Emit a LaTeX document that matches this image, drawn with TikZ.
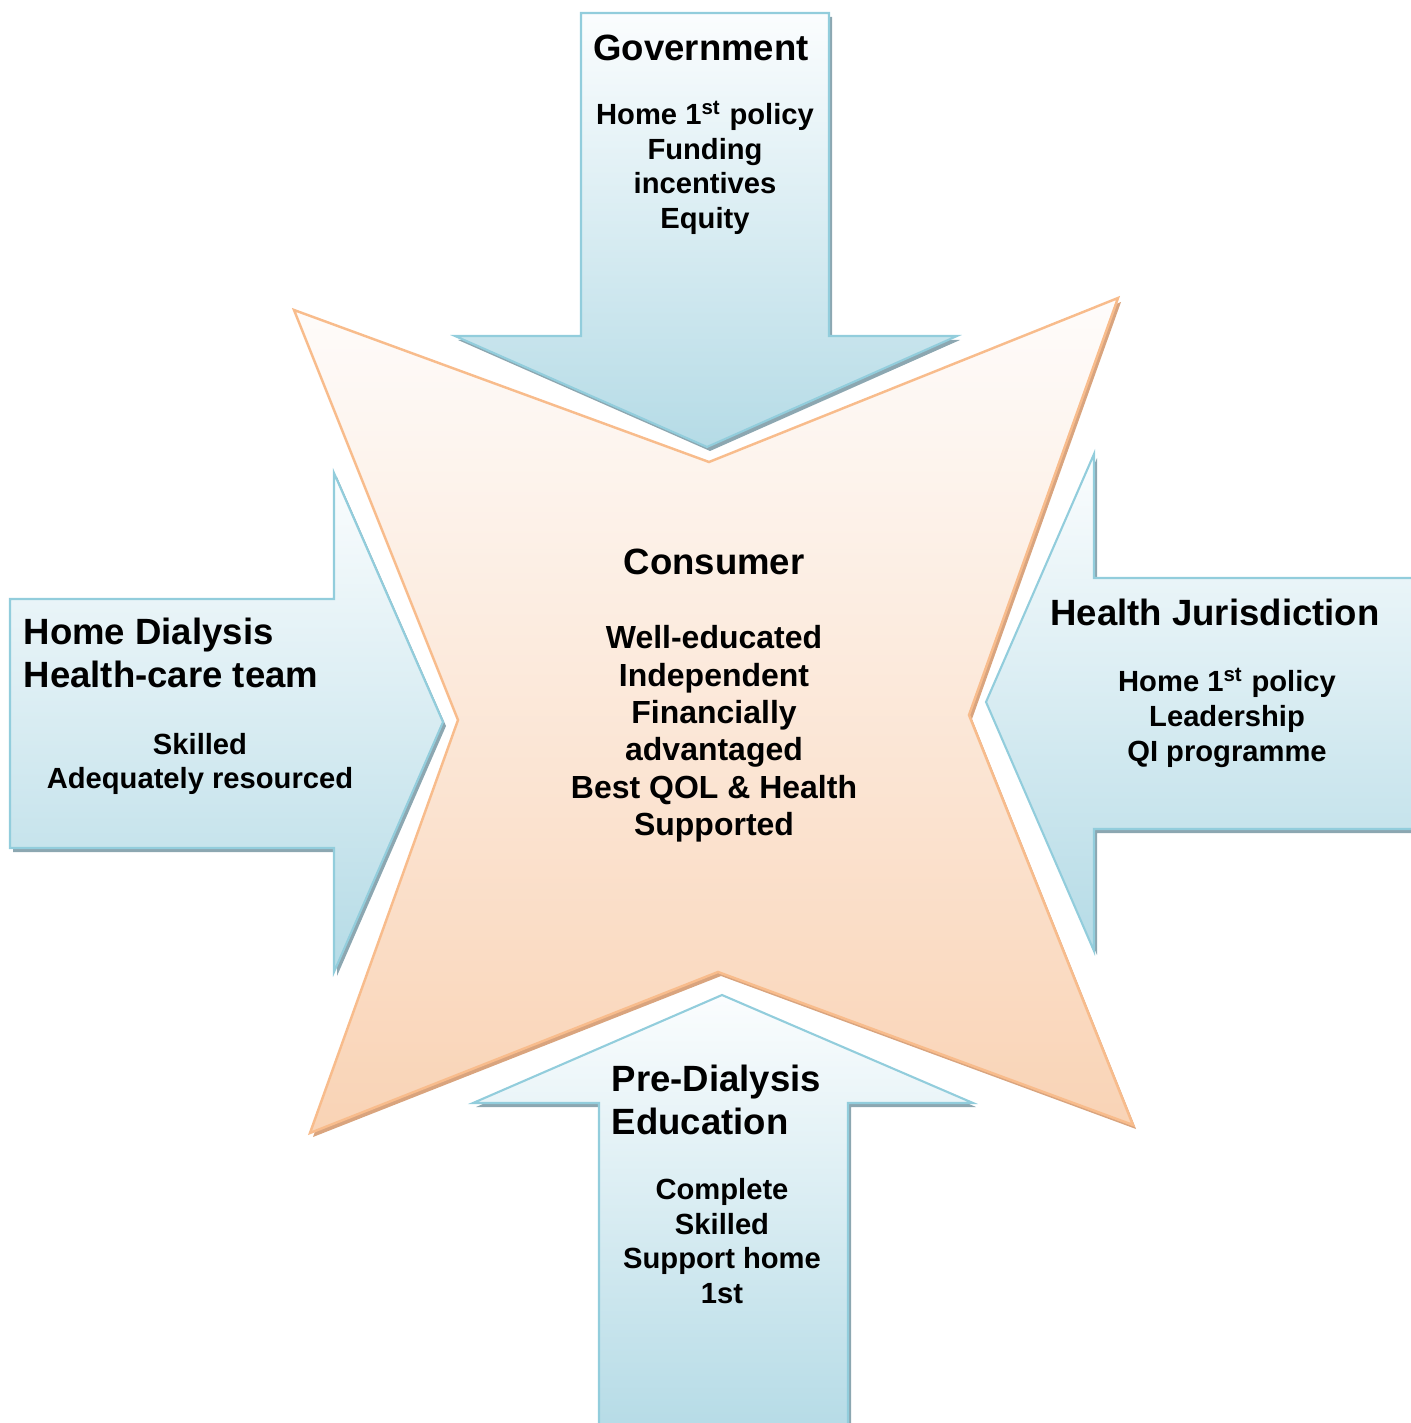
\documentclass[tikz,border=0pt]{standalone}
\usepackage{fontspec}
\setmainfont{Liberation Sans}
\usetikzlibrary{calc}
\definecolor{arrowLine}{HTML}{92CDDC}
\definecolor{arrowTop}{HTML}{FBFDFE}
\definecolor{arrowBlue}{HTML}{B5DBE6}
\definecolor{arrowShade}{HTML}{8CA7B1}
\definecolor{starLine}{HTML}{F8BC8C}
\definecolor{starTop}{HTML}{FEFCFB}
\definecolor{starBottom}{HTML}{F9D3B5}
\definecolor{starShade}{HTML}{D9A47E}
\tikzset{
  blockarrow/.style = {draw=arrowLine, line width=0.6pt, top color=arrowTop, bottom color=arrowBlue,
                       preaction={fill=arrowShade, transform canvas={xshift=0.3mm, yshift=-0.4mm}}},
  starblock/.style  = {draw=starLine, line width=0.7pt, top color=starTop, bottom color=starBottom,
                       preaction={fill=starShade, transform canvas={xshift=0.3mm, yshift=-0.4mm}}},
  head/.style       = {font=\fontsize{10.4}{12.2}\selectfont\bfseries, align=left, inner sep=0pt},
  items/.style      = {font=\fontsize{8.3}{9.9}\selectfont\bfseries, align=center, inner sep=0pt}
}

\begin{document}
\begin{tikzpicture}[x=0.1mm, y=-0.1mm]
  \useasboundingbox (0,0) rectangle (1410,1423);

  % four block arrows pushing in
  \path[blockarrow] (581,13) -- (829,13) -- (829,336) -- (957,336) -- (707,447)
    -- (455,336) -- (581,336) -- cycle;
  \path[blockarrow] (10,599) -- (334,599) -- (334,473) -- (443,722) -- (334,972)
    -- (334,848) -- (10,848) -- cycle;
  \path[blockarrow] (1420,578) -- (1094,578) -- (1094,454) -- (986,702) -- (1094,951)
    -- (1094,829) -- (1420,829) -- cycle;
  \path[blockarrow] (599,1433) -- (599,1103) -- (473,1103) -- (722,995) -- (973,1103)
    -- (848,1103) -- (848,1433) -- cycle;

  % the star in the middle
  \path[starblock] (294,310) -- (709,462) -- (1118,298) -- (969,715) -- (1133,1125)
    -- (718,972) -- (310,1133) -- (458,720) -- cycle;

  % texts
  \node[head] (govTitle) at (701,48) {Government};
  \node[items] (govBody) at (705,168) {Home 1\textsuperscript{st} policy\\ Funding\\ incentives\\ Equity};

  \node[head] (conTitle) at (714,562) {Consumer};
  \node[items, font=\fontsize{9.1}{10.65}\selectfont\bfseries] (conBody) at (714,734)
    {Well-educated\\ Independent\\ Financially\\ advantaged\\ Best QOL \& Health\\ Supported};

  \node[head, anchor=west] (teamTitle) at (23,653) {Home Dialysis\\ Health-care team};
  \node[items] (teamBody) at (200,764) {Skilled\\ Adequately resourced};

  \node[head] (jurTitle) at (1215,612) {Health Jurisdiction};
  \node[items] (jurBody) at (1227,718) {Home 1\textsuperscript{st} policy\\ Leadership\\ QI programme};

  \node[head, anchor=west] (eduTitle) at (611,1100) {Pre-Dialysis\\ Education};
  \node[items] (eduBody) at (722,1241) {Complete\\ Skilled\\ Support home\\ 1st};
\end{tikzpicture}
\end{document}
